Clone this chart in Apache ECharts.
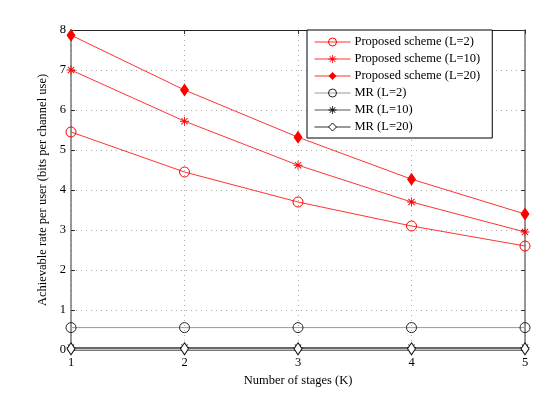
<!DOCTYPE html>
<html><head><meta charset="utf-8">
<script src="https://cdn.jsdelivr.net/npm/echarts@6/dist/echarts.min.js"></script>
<style>html,body{margin:0;padding:0;background:#fff}#c{width:545px;height:395px}</style>
</head><body><div id="c"></div>
<script>
const stages = [1, 2, 3, 4, 5];
const propL2 = [5.45, 4.45, 3.7, 3.1, 2.6];
const propL10 = [7.0, 5.72, 4.62, 3.7, 2.95];
const propL20 = [7.87, 6.5, 5.32, 4.27, 3.4];
const mrL2 = [0.56, 0.56, 0.56, 0.56, 0.56];
const mrL10 = [0.06, 0.06, 0.06, 0.06, 0.06];
const mrL20 = [0.03, 0.03, 0.03, 0.03, 0.03];
const names = ['Proposed scheme (L=2)','Proposed scheme (L=10)','Proposed scheme (L=20)','MR (L=2)','MR (L=10)','MR (L=20)'];

const star = 'path://M9 0L11 0L11 20L9 20ZM0 9L20 9L20 11L0 11ZM3.7 2.3L17.7 16.3L16.3 17.7L2.3 3.7ZM16.3 2.3L17.7 3.7L3.7 17.7L2.3 16.3Z';
const font = 'Liberation Serif';
const pair = a => stages.map((k, i) => [k, a[i]]);

function s(name, data, lineColor, symbol, size, item) {
  return {
    name, type: 'line', data: pair(data), symbol, symbolSize: size,
    showAllSymbol: true, animation: false,
    lineStyle: { color: lineColor, width: 1 },
    itemStyle: item,
    emphasis: { disabled: true }
  };
}
const hollow = c => ({ color: 'rgba(255,255,255,0)', borderColor: c, borderWidth: 1 });
const solid = c => ({ color: c, borderWidth: 0 });

const chart = echarts.init(document.getElementById('c'));
chart.setOption({
  animation: false,
  textStyle: { fontFamily: font },
  grid: { left: 71, right: 20, top: 30, bottom: 45 },
  legend: {
    orient: 'vertical', left: 307, top: 30, width: 186,
    data: names,
    itemWidth: 36, itemHeight: 10, itemGap: 3,
    padding: [5, 12, 4, 7],
    itemStyle: { borderWidth: 1 },
    lineStyle: { width: 1 },
    borderColor: '#000', borderWidth: 1, backgroundColor: '#fff',
    textStyle: { fontFamily: font, fontSize: 12.5, lineHeight: 14, color: '#000', padding: [0, 0, 0, -1] }
  },
  xAxis: [{
    type: 'value', min: 1, max: 5, interval: 1,
    name: 'Number of stages (K)', nameLocation: 'middle', nameGap: 21,
    nameTextStyle: { fontFamily: font, fontSize: 12.5, color: '#000' },
    axisLine: { lineStyle: { color: '#777', width: 1 } },
    axisTick: { inside: true, length: 4, lineStyle: { color: '#333' } },
    axisLabel: { fontFamily: font, fontSize: 12.5, color: '#000', margin: 6 },
    splitLine: { show: true, lineStyle: { color: '#aaa', type: [1, 4] } }
  }, {
    type: 'value', min: 1, max: 5, interval: 1, position: 'top',
    axisLine: { show: true, onZero: false, lineStyle: { color: '#222', width: 1 } },
    axisTick: { inside: true, length: 4, lineStyle: { color: '#333' } },
    axisLabel: { show: false }, splitLine: { show: false }
  }],
  yAxis: [{
    type: 'value', min: 0, max: 8, interval: 1,
    name: 'Achievable rate per user (bits per channel use)', nameLocation: 'middle', nameGap: 14,
    nameTextStyle: { fontFamily: font, fontSize: 12.5, color: '#000' },
    axisLine: { show: true, lineStyle: { color: '#777', width: 1.5 } },
    axisTick: { show: true, inside: true, length: 4, lineStyle: { color: '#333' } },
    axisLabel: { fontFamily: font, fontSize: 12.5, color: '#000', margin: 5 },
    splitLine: { show: true, lineStyle: { color: '#aaa', type: [1, 4] } }
  }, {
    type: 'value', min: 0, max: 8, interval: 1, position: 'right',
    axisLine: { show: true, onZero: false, lineStyle: { color: '#777', width: 1.5 } },
    axisTick: { show: true, inside: true, length: 4, lineStyle: { color: '#333' } },
    axisLabel: { show: false }, splitLine: { show: false }
  }],
  series: [
    s(names[0], propL2, '#ff3333', 'circle', 10, hollow('#ff0000')),
    s(names[1], propL10, '#ff3333', star, 9, solid('#ff0000')),
    s(names[2], propL20, '#ff3333', 'diamond', [9, 13], solid('#ff0000')),
    s(names[3], mrL2, '#999', 'circle', 10, hollow('#222')),
    s(names[4], mrL10, '#555', star, 9, solid('#111')),
    s(names[5], mrL20, '#333', 'diamond', [8, 12], { color: '#fff', borderColor: '#111', borderWidth: 1 })
  ]
});
</script>
</body></html>
